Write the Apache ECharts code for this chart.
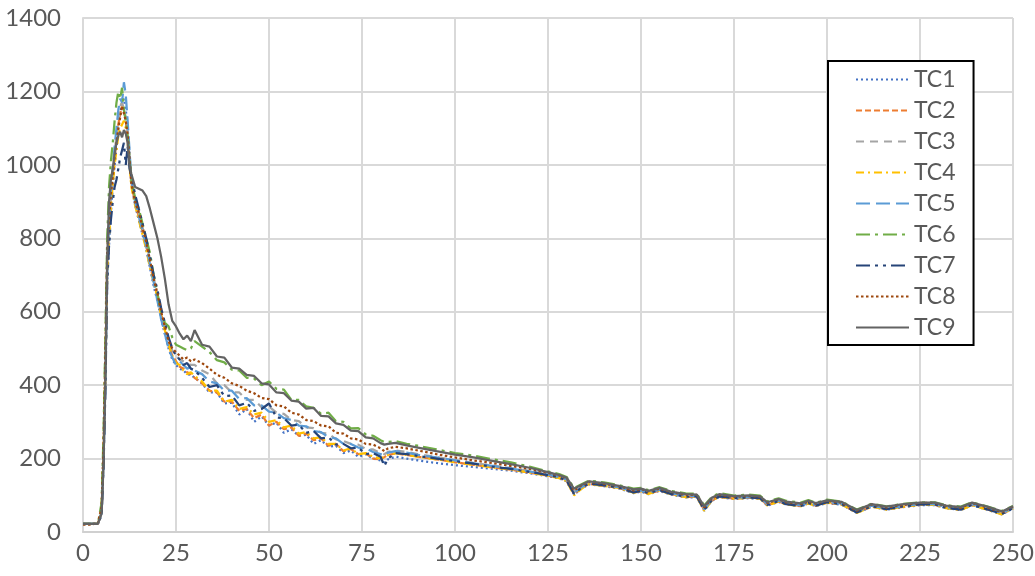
<!DOCTYPE html>
<html><head><meta charset="utf-8">
<script src="https://cdn.jsdelivr.net/npm/echarts@6/dist/echarts.min.js"></script>
<style>html,body{margin:0;padding:0;background:#fff}#c{width:1035px;height:576px}</style>
</head><body><div id="c"></div>
<script>
const names = ['TC1','TC2','TC3','TC4','TC5','TC6','TC7','TC8','TC9'];
const xTicks = [0,25,50,75,100,125,150,175,200,225,250];
const yTicks = [0,200,400,600,800,1000,1200,1400];
const xs = [0,1,2,3,4,
 5,5.5,6,6.5,7,7.5,8,8.5,9,9.5,10,10.5,11,11.5,12,12.5,13,
 14,15,16,17,18,19,20,21,22,23,24,25,26,27,28,29,30,
 32,34,36,38,40,42,44,46,48,50,52,54,56,58,60,62,64,66,68,70,72,74,76,78,80,
 81,82,84,87,90,
 95,100,105,110,115,120,125,
 128,130,132,134,136,
 140,144,148,150,152,155,158,162,165,167,169,171,
 175,179,182,184,187,189,193,195,197,200,
 204,208,212,216,220,225,229,232,236,239,243,247,250];

const tc1 = [22,22,22,22,22,
 50,185,400,680,780,870,940,1000,1050,1100,1140,1170,1180,1150,1100,1030,950,
 890,850,810,770,720,670,630,580,540,500,470,455,445,440,430,428,420,
 405,380,380,350,352,320,335,300,315,290,298,270,280,262,265,240,250,232,235,215,222,205,212,200,195,
 190,198,205,200,195,
 188,182,177,172,167,160,152,
 146,138,102,118,130,
 125,119,106,110,103,112,102,94,95,58,85,95,
 90,92,90,72,82,75,70,77,71,79,
 74,52,69,61,67,73,73,65,60,73,61,48,64];
const tc2 = [22,22,22,22,22,
 58,205,440,720,820,900,960,1020,1070,1110,1140,1160,1150,1120,1070,1010,950,
 895,860,820,780,730,685,640,595,550,510,480,465,450,445,435,430,420,
 405,385,380,355,355,330,335,310,320,290,300,280,285,262,268,250,255,235,240,220,226,212,214,200,198,
 204,210,214,210,205,
 198,190,183,176,170,162,153,
 148,140,103,120,131,
 126,120,108,111,105,113,104,96,96,60,86,96,
 91,93,92,73,83,76,71,78,72,80,
 75,53,70,62,68,74,74,66,61,74,62,49,65];
const tc3 = [22,22,22,22,22,
 60,210,440,720,830,910,980,1030,1080,1120,1160,1170,1150,1130,1090,1030,960,
 910,870,830,790,740,690,650,600,560,520,495,480,470,465,460,455,455,
 440,430,405,400,380,380,360,360,340,342,325,322,305,302,285,283,270,268,252,248,240,238,226,225,215,
 212,218,222,218,212,
 204,196,188,181,174,166,157,
 151,144,109,124,134,
 129,123,111,114,109,116,107,99,99,64,89,99,
 94,96,94,77,87,79,74,81,75,83,
 78,56,73,65,71,77,77,69,64,77,65,52,67];
const tc4 = [22,22,22,22,22,
 55,200,430,700,800,880,950,1000,1040,1080,1100,1110,1120,1100,1060,1000,940,
 890,850,810,770,720,680,640,590,550,510,480,460,455,440,430,435,425,
 410,385,385,355,360,335,340,320,325,300,305,285,290,268,272,255,258,240,240,222,228,212,215,205,200,
 205,210,215,210,205,
 198,190,183,176,170,162,153,
 147,139,100,118,130,
 126,120,107,111,104,113,103,95,96,58,85,96,
 91,93,91,72,83,75,70,78,71,80,
 75,52,69,61,68,74,74,65,60,73,61,48,64];
const tc5 = [22,22,22,22,22,
 55,190,400,700,840,930,990,1050,1100,1150,1180,1170,1225,1190,1120,1040,960,
 900,860,820,780,730,680,630,580,540,500,475,455,465,455,445,450,440,
 430,410,405,385,385,362,365,345,345,328,325,310,305,290,288,275,272,258,255,240,240,230,228,218,212,
 208,216,220,216,210,
 203,195,187,180,173,165,156,
 150,143,106,122,133,
 128,122,110,113,107,115,106,98,98,62,88,98,
 93,95,93,76,86,78,73,80,74,82,
 77,55,72,64,70,76,76,68,63,76,64,51,66];
const tc6 = [22,22,22,22,22,
 80,260,520,800,940,1010,1060,1120,1170,1200,1180,1210,1150,1120,1080,1020,960,
 910,880,840,800,760,700,650,600,570,560,530,510,505,500,495,500,520,
 505,490,468,462,442,440,420,418,400,410,390,388,360,360,342,338,322,325,302,300,282,283,266,262,250,
 245,245,248,240,235,
 225,215,208,198,190,178,165,
 158,150,120,130,140,
 135,128,118,120,114,122,112,105,104,72,95,106,
 99,102,99,83,92,85,80,87,80,88,
 83,61,77,70,76,81,81,73,69,81,70,57,71];
const tc7 = [22,22,22,22,22,
 45,170,380,680,780,850,900,940,960,990,1020,1040,1060,1000,1050,990,970,
 920,880,840,800,750,700,660,610,570,530,500,480,470,455,460,445,440,
 420,395,400,370,372,345,352,330,335,350,312,310,290,292,270,275,255,258,238,240,228,230,212,215,205,
 180,200,215,212,207,
 200,193,186,178,172,164,155,
 149,140,104,121,132,
 127,121,108,112,106,114,104,96,97,60,86,97,
 92,94,92,74,84,76,71,79,72,81,
 76,53,70,62,69,75,75,66,61,74,62,49,65];
const tc8 = [20,20,20,22,22,
 70,230,480,760,850,920,970,1020,1060,1100,1130,1160,1140,1120,1080,1020,950,
 900,870,830,790,740,690,650,600,560,520,500,490,480,470,475,465,470,
 460,445,428,420,405,398,385,378,365,362,345,342,325,320,305,302,290,288,270,268,255,252,240,238,228,
 220,228,232,228,222,
 212,203,195,188,180,172,161,
 154,147,113,127,137,
 131,125,113,117,111,118,109,101,101,67,91,101,
 96,98,96,79,89,81,76,83,77,85,
 80,58,75,67,73,79,79,71,66,79,67,54,69];
const tc9 = [22,22,22,22,22,
 50,180,400,740,900,960,990,1030,1060,1080,1090,1075,1095,1085,1060,1000,975,
 940,935,930,915,880,840,800,750,690,620,575,560,540,525,535,520,550,
 510,505,478,475,448,445,428,425,405,402,380,378,358,355,336,338,316,315,296,292,276,275,258,255,242,
 238,240,243,236,230,
 220,211,203,194,185,175,163,
 155,148,118,128,138,
 133,126,116,118,112,120,110,103,102,70,93,103,
 98,100,97,81,90,83,78,85,79,86,
 82,60,76,69,75,80,80,72,68,80,69,56,70];

const values = [tc1,tc2,tc3,tc4,tc5,tc6,tc7,tc8,tc9];
const colors = ['#4472C4','#ED7D31','#A5A5A5','#FFC000','#5B9BD5','#70AD47','#264478','#9E480E','#636363'];
const dashes = [[2,3],[6,3],[8,6],[8,4,2,4],[14,6],[14,5,3,5],[14,5,3,5,3,5],[2.5,2.5],'solid'];

const FONT = 'Lato, "Open Sans", sans-serif';
const chart = echarts.init(document.getElementById('c'));
chart.setOption({
  animation: false,
  backgroundColor: '#fff',
  grid: {left: 83, right: 22, top: 18, bottom: 44, containLabel: false, outerBoundsMode: 'none'},
  legend: {
    orient: 'vertical', left: 828, top: 61,
    data: names,
    itemWidth: 53, itemHeight: 14, itemGap: 8,
    padding: [7, 18, 6, 27],
    borderColor: '#000', borderWidth: 2, backgroundColor: '#fff',
    itemStyle: {opacity: 0, borderWidth: 0},
    textStyle: {fontFamily: FONT, fontSize: 23, color: '#595959'}
  },
  xAxis: {
    type: 'value', min: 0, max: 250, interval: 25,
    axisLine: {show: true, lineStyle: {color: '#D0D0D0', width: 2}},
    axisTick: {show: false},
    splitLine: {show: true, lineStyle: {color: '#D9D9D9', width: 2}},
    axisLabel: {fontFamily: FONT, fontSize: 24, color: '#595959', margin: 9,
      formatter: v => xTicks.includes(v) ? String(v) : ''}
  },
  yAxis: {
    type: 'value', min: 0, max: 1400, interval: 200,
    axisLine: {show: true, lineStyle: {color: '#D9D9D9', width: 2}},
    axisTick: {show: false},
    splitLine: {show: true, lineStyle: {color: '#D9D9D9', width: 2}},
    axisLabel: {fontFamily: FONT, fontSize: 24, color: '#595959', margin: 22,
      formatter: v => yTicks.includes(v) ? String(v) : ''}
  },
  series: names.map((n, i) => ({
    name: n, type: 'line', symbol: 'none', showSymbol: false,
    color: colors[i],
    lineStyle: {color: colors[i], width: 2.25, type: dashes[i]},
    data: xs.map((x, k) => [x, values[i][k]])
  }))
});
</script></body></html>
